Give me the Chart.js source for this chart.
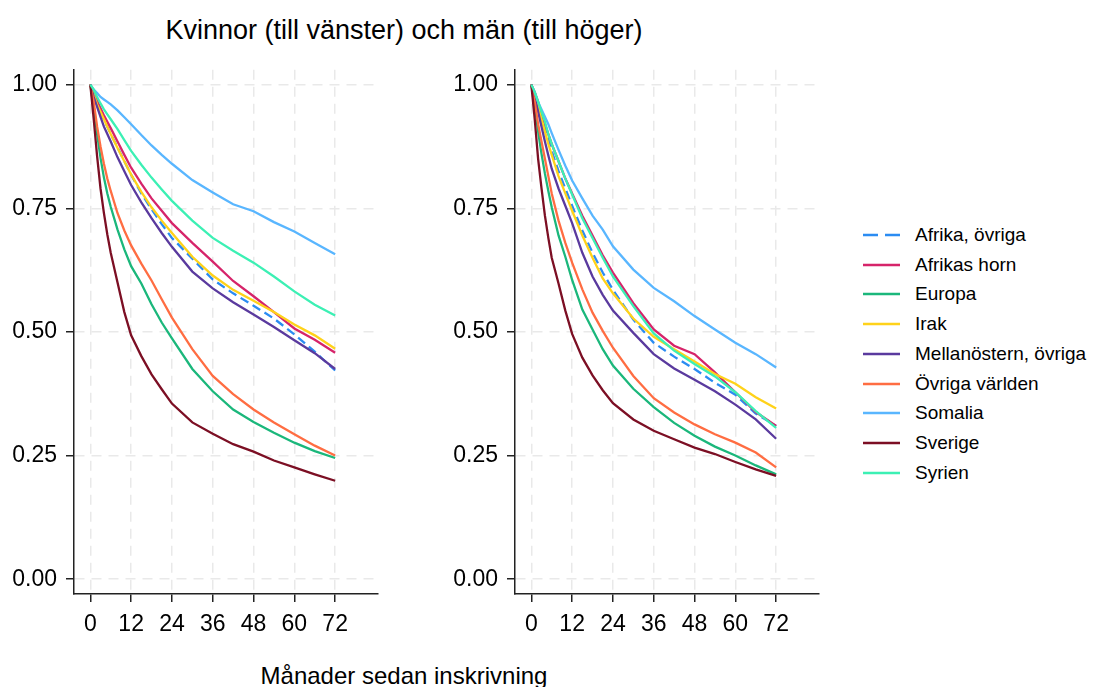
<!DOCTYPE html>
<html lang="sv">
<head>
<meta charset="utf-8">
<title>Kvinnor och män</title>
<script src="https://cdn.jsdelivr.net/npm/chart.js@4.4.1/dist/chart.umd.min.js"></script>
<style>
    body {
        margin: 0;
        width: 1093px;
        height: 687px;
        position: relative;
        overflow: hidden;
        background: #fff;
        color: #000;
        font-family: "Liberation Sans", Arial, sans-serif;
    }
    #title {
        position: absolute;
        left: 0;
        top: 14px;
        width: 808px;
        text-align: center;
        font-size: 27px;
        line-height: 32px;
    }
    #xlabel {
        position: absolute;
        left: 0;
        top: 662px;
        width: 808px;
        text-align: center;
        font-size: 24px;
        line-height: 28px;
    }
    canvas { position: absolute; top: 47px; }
    #chartK { left: 0; }
    #chartM { left: 441px; }
    .legend-row {
        position: absolute;
        left: 863px;
        height: 24px;
        line-height: 24px;
        font-size: 19px;
        white-space: nowrap;
    }
    .legend-row svg { position: absolute; left: 0; top: 0; }
    .legend-row span { position: absolute; left: 52px; top: 0; }
</style>
</head>
<body>
<div id="title">Kvinnor (till vänster) och män (till höger)</div>
<canvas id="chartK" width="380" height="593"></canvas>
<canvas id="chartM" width="380" height="593"></canvas>
<div id="legend"></div>
<div id="xlabel">Månader sedan inskrivning</div>

<script>
// --- DATA ---

// månader sedan inskrivning där kurvorna avlästs
const months = [0, 1, 2, 3, 4, 5, 6, 8, 10, 12, 15, 18, 21, 24, 30, 36, 42, 48, 54, 60, 66, 72];
const xTicks = [0, 12, 24, 36, 48, 60, 72];
const yTicks = [0, 0.25, 0.5, 0.75, 1];

const groups = ['Afrika, övriga', 'Afrikas horn', 'Europa', 'Irak', 'Mellanöstern, övriga',
    'Övriga världen', 'Somalia', 'Sverige', 'Syrien'];
const groupColors = ['#2b8cf2', '#d6246a', '#1bb77b', '#ffd21a', '#5a3a9e',
    '#ff6d42', '#59b6ff', '#7c0f24', '#3cf0b4'];

// Kvinnor (vänster panel)
const afrikaOvrigaK = [1, 0.98, 0.962, 0.945, 0.93, 0.915, 0.9, 0.873, 0.845, 0.818, 0.78, 0.748, 0.718, 0.69, 0.648, 0.606, 0.578, 0.553, 0.527, 0.495, 0.46, 0.422];
const afrikasHornK = [1, 0.985, 0.968, 0.952, 0.938, 0.925, 0.912, 0.885, 0.858, 0.832, 0.8, 0.77, 0.745, 0.72, 0.68, 0.642, 0.603, 0.572, 0.54, 0.507, 0.484, 0.458];
const europaK = [1, 0.955, 0.9, 0.852, 0.812, 0.78, 0.753, 0.707, 0.667, 0.633, 0.598, 0.556, 0.519, 0.487, 0.425, 0.38, 0.343, 0.318, 0.296, 0.276, 0.259, 0.245];
const irakK = [1, 0.98, 0.96, 0.945, 0.93, 0.915, 0.9, 0.872, 0.845, 0.818, 0.783, 0.752, 0.725, 0.7, 0.652, 0.614, 0.585, 0.563, 0.54, 0.515, 0.493, 0.466];
const mellanostK = [1, 0.975, 0.955, 0.935, 0.915, 0.9, 0.885, 0.853, 0.825, 0.797, 0.762, 0.73, 0.7, 0.672, 0.622, 0.588, 0.56, 0.535, 0.51, 0.483, 0.457, 0.425];
const ovrigaK = [1, 0.965, 0.915, 0.875, 0.84, 0.81, 0.785, 0.74, 0.705, 0.675, 0.638, 0.604, 0.566, 0.529, 0.465, 0.411, 0.374, 0.343, 0.317, 0.293, 0.27, 0.25];
const somaliaK = [1, 0.99, 0.983, 0.975, 0.97, 0.965, 0.96, 0.948, 0.934, 0.92, 0.898, 0.877, 0.858, 0.84, 0.807, 0.782, 0.758, 0.744, 0.722, 0.703, 0.68, 0.657];
const sverigeK = [1, 0.93, 0.855, 0.79, 0.74, 0.697, 0.66, 0.6, 0.54, 0.493, 0.451, 0.414, 0.384, 0.355, 0.317, 0.294, 0.273, 0.258, 0.24, 0.226, 0.212, 0.199];
const syrienK = [1, 0.99, 0.975, 0.962, 0.95, 0.94, 0.93, 0.91, 0.888, 0.866, 0.838, 0.812, 0.788, 0.765, 0.725, 0.69, 0.664, 0.64, 0.612, 0.582, 0.555, 0.533];

// Män (höger panel)
const afrikaOvrigaM = [1, 0.98, 0.958, 0.935, 0.91, 0.888, 0.866, 0.825, 0.79, 0.755, 0.705, 0.66, 0.62, 0.585, 0.525, 0.478, 0.45, 0.425, 0.397, 0.373, 0.335, 0.31];
const afrikasHornM = [1, 0.985, 0.965, 0.94, 0.92, 0.9, 0.88, 0.845, 0.81, 0.78, 0.735, 0.695, 0.655, 0.62, 0.558, 0.505, 0.472, 0.455, 0.418, 0.378, 0.338, 0.31];
const europaM = [1, 0.96, 0.905, 0.86, 0.82, 0.785, 0.752, 0.695, 0.652, 0.605, 0.545, 0.505, 0.465, 0.432, 0.385, 0.348, 0.316, 0.29, 0.268, 0.25, 0.23, 0.212];
const irakM = [1, 0.98, 0.955, 0.93, 0.905, 0.88, 0.858, 0.815, 0.78, 0.745, 0.695, 0.65, 0.608, 0.578, 0.527, 0.49, 0.465, 0.44, 0.415, 0.395, 0.368, 0.345];
const mellanostM = [1, 0.975, 0.945, 0.915, 0.885, 0.857, 0.83, 0.79, 0.755, 0.72, 0.66, 0.612, 0.575, 0.543, 0.498, 0.455, 0.426, 0.403, 0.38, 0.353, 0.323, 0.284];
const ovrigaM = [1, 0.965, 0.92, 0.885, 0.85, 0.815, 0.78, 0.725, 0.68, 0.64, 0.586, 0.539, 0.502, 0.468, 0.411, 0.366, 0.337, 0.313, 0.293, 0.276, 0.256, 0.226];
const somaliaM = [1, 0.985, 0.965, 0.95, 0.935, 0.92, 0.902, 0.868, 0.836, 0.806, 0.77, 0.735, 0.707, 0.673, 0.626, 0.589, 0.562, 0.532, 0.505, 0.478, 0.455, 0.428];
const sverigeM = [1, 0.93, 0.85, 0.79, 0.735, 0.69, 0.65, 0.598, 0.543, 0.496, 0.448, 0.412, 0.382, 0.356, 0.323, 0.3, 0.283, 0.266, 0.253, 0.237, 0.222, 0.209];
const syrienM = [1, 0.985, 0.965, 0.945, 0.925, 0.9, 0.88, 0.845, 0.81, 0.778, 0.73, 0.69, 0.65, 0.612, 0.552, 0.497, 0.462, 0.435, 0.41, 0.378, 0.34, 0.306];

const seriesK = [afrikaOvrigaK, afrikasHornK, europaK, irakK, mellanostK, ovrigaK, somaliaK, sverigeK, syrienK];
const seriesM = [afrikaOvrigaM, afrikasHornM, europaM, irakM, mellanostM, ovrigaM, somaliaM, sverigeM, syrienM];

// --- RITNING ---

const FONT = '"Liberation Sans", Arial, sans-serif';
const dashFor = (i) => (i === 0 ? [9, 5] : []);

function buildDatasets(series) {
    return series.map((values, i) => ({
        label: groups[i],
        data: months.map((m, j) => ({ x: m, y: values[j] })),
        borderColor: groupColors[i],
        borderWidth: 2.3,
        borderDash: dashFor(i),
        pointRadius: 0,
        tension: 0,
        fill: false,
        order: groups.length - i
    }));
}

function makeChart(canvasId, series) {
    const ctx = document.getElementById(canvasId);
    return new Chart(ctx, {
        type: 'line',
        data: { datasets: buildDatasets(series) },
        options: {
            responsive: false,
            animation: false,
            devicePixelRatio: 1,
            layout: { padding: { top: 10, right: 2, bottom: 0, left: 0 } },
            plugins: { legend: { display: false }, tooltip: { enabled: false } },
            scales: {
                x: {
                    type: 'linear',
                    min: -4.8,
                    max: 84.6,
                    afterBuildTicks: (s) => { s.ticks = xTicks.map(v => ({ value: v })); },
                    afterFit: (s) => { s.height = 46; },
                    ticks: {
                        autoSkip: false,
                        maxRotation: 0,
                        padding: 9,
                        color: '#000',
                        font: { family: FONT, size: 23 },
                        callback: (v) => String(v)
                    },
                    grid: { color: '#e9e9e9', lineWidth: 1.5, tickColor: '#222', tickLength: 8, tickWidth: 1.5 },
                    border: { color: '#222', width: 1.5, dash: [10, 7] }
                },
                y: {
                    type: 'linear',
                    min: -0.03,
                    max: 1.03,
                    afterBuildTicks: (s) => { s.ticks = yTicks.map(v => ({ value: v })); },
                    afterFit: (s) => { s.width = 74; },
                    ticks: {
                        padding: 9,
                        color: '#000',
                        font: { family: FONT, size: 23 },
                        callback: (v) => Number(v).toFixed(2)
                    },
                    grid: { color: '#e9e9e9', lineWidth: 1.5, tickColor: '#222', tickLength: 8, tickWidth: 1.5 },
                    border: { color: '#222', width: 1.5, dash: [10, 7] }
                }
            }
        }
    });
}

makeChart('chartK', seriesK);
makeChart('chartM', seriesM);

// --- LEGEND ---
const legend = document.getElementById('legend');
groups.forEach((name, i) => {
    const row = document.createElement('div');
    row.className = 'legend-row';
    row.style.top = (223 + i * 29.7) + 'px';
    const dash = i === 0 ? 'stroke-dasharray="15 7"' : '';
    row.innerHTML = '<svg width="38" height="24"><line x1="0" y1="12" x2="37" y2="12" stroke="' +
        groupColors[i] + '" stroke-width="2.5" ' + dash + '/></svg><span>' + name + '</span>';
    legend.appendChild(row);
});
</script>
</body>
</html>
